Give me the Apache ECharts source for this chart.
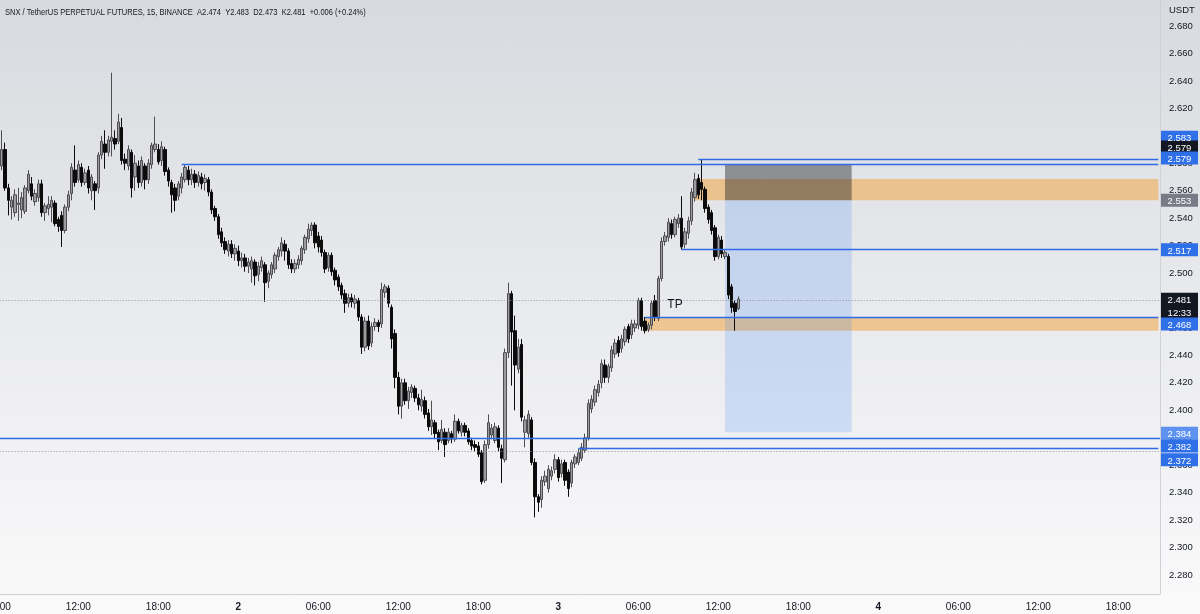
<!DOCTYPE html>
<html>
<head>
<meta charset="utf-8">
<title>SNX / TetherUS PERPETUAL FUTURES, 15</title>
<script src="https://cdn.jsdelivr.net/npm/echarts@6/dist/echarts.min.js"></script>
<style>
  html, body { margin: 0; padding: 0; }
  #chart { width: 1200px; height: 614px; background: linear-gradient(#d8dadf, #fafafb); }
</style>
</head>
<body>
<div id="chart"></div>
<script>
// 15m candles [open, close, low, high], day 1 starts at 06:15
const day1Candles = [
  [2.578,2.590,2.575,2.604],[2.590,2.562,2.560,2.595],[2.562,2.553,2.542,2.565],[2.548,2.553,2.539,2.556],
  [2.544,2.557,2.541,2.561],[2.550,2.551,2.538,2.562],[2.546,2.555,2.540,2.559],[2.545,2.562,2.543,2.564],
  [2.560,2.572,2.558,2.575],[2.565,2.556,2.553,2.570],[2.552,2.558,2.549,2.561],[2.555,2.565,2.552,2.568],
  [2.565,2.544,2.541,2.568],[2.544,2.549,2.538,2.551],[2.547,2.550,2.542,2.556],[2.548,2.553,2.537,2.556],
  [2.551,2.536,2.534,2.553],[2.539,2.534,2.530,2.541],[2.542,2.531,2.519,2.545],[2.531,2.548,2.529,2.550],
  [2.548,2.557,2.545,2.560],[2.558,2.577,2.553,2.580],[2.575,2.566,2.563,2.593],[2.568,2.579,2.566,2.582],
  [2.577,2.566,2.563,2.580],[2.566,2.573,2.564,2.576],[2.575,2.562,2.558,2.578],[2.560,2.570,2.553,2.572],
  [2.565,2.560,2.546,2.567],[2.562,2.586,2.558,2.588],[2.586,2.596,2.583,2.600],[2.594,2.588,2.576,2.604],
  [2.588,2.597,2.585,2.600],[2.596,2.599,2.585,2.646],[2.598,2.594,2.590,2.604],[2.596,2.610,2.594,2.616],
  [2.606,2.582,2.579,2.613],[2.583,2.580,2.575,2.587],[2.578,2.590,2.575,2.593],[2.588,2.562,2.555,2.590],
  [2.570,2.580,2.560,2.586],[2.578,2.566,2.562,2.582],[2.566,2.582,2.563,2.585],[2.578,2.568,2.561,2.580],
  [2.568,2.580,2.565,2.583],[2.579,2.593,2.576,2.595],[2.590,2.594,2.588,2.614],[2.590,2.581,2.579,2.594],
  [2.582,2.592,2.578,2.596],[2.590,2.574,2.571,2.592],[2.575,2.567,2.563,2.577],[2.566,2.557,2.544,2.568],
  [2.562,2.553,2.545,2.565],[2.556,2.565,2.553,2.567],[2.562,2.570,2.558,2.573],[2.568,2.577,2.566,2.579],
  [2.575,2.568,2.564,2.578],[2.568,2.572,2.564,2.576],[2.572,2.566,2.562,2.575],[2.566,2.571,2.563,2.574],
  [2.570,2.565,2.561,2.573],[2.566,2.569,2.560,2.572],[2.568,2.559,2.556,2.570],[2.559,2.546,2.543,2.561],
  [2.547,2.541,2.538,2.549],[2.541,2.528,2.525,2.543],[2.530,2.522,2.519,2.533],[2.523,2.517,2.514,2.526],
  [2.516,2.521,2.512,2.524],[2.521,2.514,2.511,2.524],[2.514,2.518,2.509,2.521]
];
const day2Candles = [
  [2.516,2.509,2.505,2.520],[2.509,2.511,2.504,2.515],[2.511,2.505,2.501,2.514],[2.505,2.508,2.500,2.511],
  [2.503,2.509,2.493,2.512],[2.508,2.498,2.491,2.510],[2.499,2.505,2.494,2.508],[2.504,2.509,2.501,2.512],
  [2.506,2.493,2.479,2.508],[2.494,2.500,2.489,2.502],[2.499,2.506,2.496,2.508],[2.503,2.513,2.500,2.515],
  [2.512,2.517,2.509,2.519],[2.516,2.522,2.512,2.526],[2.521,2.516,2.509,2.524],[2.516,2.506,2.503,2.518],
  [2.507,2.503,2.500,2.510],[2.503,2.507,2.500,2.510],[2.506,2.510,2.503,2.513],[2.509,2.518,2.506,2.520],
  [2.517,2.526,2.514,2.528],[2.525,2.532,2.522,2.536],[2.531,2.535,2.527,2.537],[2.535,2.522,2.518,2.537],
  [2.527,2.519,2.515,2.530],[2.524,2.515,2.512,2.527],[2.515,2.503,2.500,2.517],[2.504,2.513,2.501,2.515],
  [2.513,2.501,2.498,2.515],[2.502,2.495,2.491,2.504],[2.497,2.490,2.487,2.499],[2.491,2.484,2.481,2.493],
  [2.485,2.478,2.471,2.488],[2.478,2.482,2.475,2.485],[2.482,2.479,2.475,2.485],[2.478,2.481,2.474,2.484],
  [2.480,2.468,2.465,2.482],[2.468,2.446,2.441,2.470],[2.446,2.465,2.443,2.468],[2.465,2.447,2.444,2.469],
  [2.449,2.461,2.446,2.464],[2.461,2.464,2.458,2.467],[2.464,2.461,2.457,2.466],[2.463,2.488,2.460,2.493],
  [2.486,2.490,2.482,2.492],[2.489,2.478,2.475,2.491],[2.475,2.452,2.445,2.477],[2.456,2.424,2.416,2.459],
  [2.424,2.403,2.397,2.428],[2.403,2.420,2.394,2.423],[2.420,2.407,2.404,2.423],[2.407,2.414,2.401,2.417],
  [2.413,2.417,2.409,2.419],[2.416,2.409,2.406,2.418],[2.409,2.404,2.400,2.412],[2.403,2.408,2.399,2.415],
  [2.407,2.397,2.394,2.410],[2.398,2.388,2.385,2.401],[2.388,2.393,2.382,2.407],[2.391,2.383,2.379,2.393],
  [2.384,2.377,2.371,2.386],[2.378,2.386,2.376,2.393],[2.384,2.375,2.366,2.387],[2.378,2.384,2.376,2.387],
  [2.383,2.379,2.376,2.385],[2.379,2.392,2.377,2.397],[2.392,2.385,2.383,2.394],[2.384,2.389,2.381,2.391],
  [2.389,2.384,2.381,2.391],[2.385,2.377,2.375,2.387],[2.378,2.374,2.371,2.380],[2.375,2.373,2.370,2.378],
  [2.374,2.368,2.366,2.377],[2.369,2.348,2.346,2.371],[2.349,2.375,2.347,2.378],[2.375,2.391,2.372,2.397],
  [2.382,2.387,2.379,2.390],[2.378,2.388,2.376,2.391],[2.387,2.373,2.370,2.389],[2.372,2.365,2.347,2.375],
  [2.364,2.442,2.362,2.445],[2.442,2.485,2.438,2.493],[2.485,2.457,2.418,2.487],[2.458,2.433,2.400,2.469],
  [2.430,2.446,2.427,2.452],[2.448,2.395,2.392,2.452],[2.384,2.393,2.373,2.396],[2.383,2.397,2.380,2.400],
  [2.393,2.362,2.360,2.395],[2.362,2.337,2.322,2.365],[2.337,2.333,2.326,2.339],[2.335,2.349,2.329,2.352],
  [2.348,2.352,2.345,2.356],[2.343,2.357,2.340,2.360],[2.352,2.356,2.349,2.359],[2.357,2.364,2.354,2.368]
];
const day3Candles = [
  [2.364,2.351,2.348,2.366],[2.354,2.361,2.351,2.364],[2.362,2.349,2.345,2.364],[2.355,2.343,2.337,2.357],
  [2.347,2.362,2.344,2.364],[2.361,2.366,2.358,2.368],[2.362,2.369,2.360,2.372],[2.365,2.373,2.363,2.376],
  [2.371,2.380,2.369,2.383],[2.380,2.405,2.378,2.408],[2.401,2.408,2.398,2.411],[2.406,2.415,2.403,2.418],
  [2.413,2.419,2.410,2.422],[2.420,2.434,2.416,2.437],[2.433,2.424,2.420,2.437],[2.424,2.432,2.420,2.434],
  [2.431,2.444,2.428,2.447],[2.441,2.449,2.438,2.452],[2.451,2.442,2.439,2.454],[2.445,2.452,2.442,2.455],
  [2.450,2.459,2.447,2.461],[2.461,2.452,2.449,2.463],[2.455,2.463,2.452,2.466],[2.460,2.463,2.457,2.466],
  [2.462,2.480,2.459,2.482],[2.480,2.461,2.458,2.482],[2.465,2.458,2.456,2.468],[2.459,2.462,2.457,2.464],
  [2.462,2.478,2.459,2.480],[2.480,2.468,2.465,2.484],[2.467,2.496,2.465,2.498],[2.496,2.523,2.494,2.526],
  [2.523,2.527,2.520,2.530],[2.526,2.537,2.523,2.540],[2.536,2.528,2.525,2.539],[2.528,2.539,2.526,2.541],
  [2.536,2.540,2.533,2.543],[2.540,2.519,2.517,2.556],[2.521,2.530,2.518,2.533],[2.529,2.538,2.525,2.541],
  [2.538,2.559,2.535,2.562],[2.555,2.568,2.552,2.573],[2.569,2.557,2.554,2.572],[2.566,2.561,2.553,2.583],
  [2.561,2.547,2.544,2.563],[2.548,2.539,2.536,2.550],[2.544,2.531,2.528,2.546],[2.533,2.512,2.509,2.535],
  [2.512,2.526,2.510,2.528],[2.524,2.514,2.511,2.527],[2.512,2.515,2.510,2.517],[2.512,2.484,2.481,2.514],
  [2.490,2.475,2.471,2.492],[2.478,2.472,2.458,2.480],[2.474,2.481,2.473,2.483]
];

const priceTicks = [2.28, 2.30, 2.32, 2.34, 2.36, 2.38, 2.40, 2.42, 2.44, 2.46, 2.48,
  2.50, 2.52, 2.54, 2.56, 2.58, 2.60, 2.62, 2.64, 2.66, 2.68];

// drawn levels: [price, first slot] (null = whole width)
const levelLines = [[2.583, 210], [2.579, 55], [2.517, 205], [2.468, 194], [2.382, null], [2.372, 174]];
const dottedLines = [2.481, 2.372];
// orange zones: [top, bottom, first slot]
const zones = [[2.5685, 2.553, 209], [2.468, 2.458, 194]];
// short position tool
const position = { stop: 2.579, entry: 2.553, target: 2.384, from: 218, to: 256 };
const tpNote = { text: 'TP', slot: 203, price: 2.4767 };

// price tags on the axis: [price, text, colour]
const priceTags = [
  [2.583, '2.583', '#2f6fe8'],
  [2.579, '2.579', '#131722'],
  [2.579, '2.579', '#2f6fe8'],
  [2.553, '2.553', '#787b86'],
  [2.517, '2.517', '#2f6fe8'],
  [2.481, '2.481\n12:33', '#131722'],
  [2.468, '2.468', '#2f6fe8'],
  [2.384, '2.384', '#5d92f0'],
  [2.382, '2.382', '#2f6fe8'],
  [2.372, '2.372', '#2f6fe8']
];
// px nudges so stacked tags don't overlap
const tagNudge = [-22, -17.5, -6.5, 0, 0, 0, 7, 1, 11, 11];

const titleText = 'SNX / TetherUS PERPETUAL FUTURES, 15, BINANCE  A2.474  Y2.483  D2.473  K2.481  +0.006 (+0.24%)';

// 15 minute slots from 06:00 on day 1 to 21:00 on day 4
const slotCount = 349;
const pad = n => (n < 10 ? '0' : '') + n;
const categories = [];
for (let k = 0; k < slotCount; k++) {
  const m = 6 * 60 + k * 15;
  const day = 1 + Math.floor(m / 1440);
  categories.push(day + ' ' + pad(Math.floor((m % 1440) / 60)) + ':' + pad(m % 60));
}
const cat = k => categories[k];
const lastSlot = slotCount - 1;

// slot 0 (06:00) is only there so the cut-off label shows
const ohlc = [['-', '-', '-', '-']].concat(day1Candles, day2Candles, day3Candles);

const blue = '#2f6be6';
const orange = 'rgba(242,160,50,0.5)';
const font = '"Liberation Sans", Arial, sans-serif';

const chart = echarts.init(document.getElementById('chart'));

const lineData = levelLines.map(([v, from]) => from === null
  ? { yAxis: v }
  : [{ coord: [cat(from), v] }, { coord: [cat(lastSlot), v] }]
).concat(dottedLines.map(v => ({
  yAxis: v,
  lineStyle: { color: '#8d9099', type: [1, 2], width: 1 }
})));

const areaData = zones.map(([top, bottom, from]) => [
  { coord: [cat(from), top], itemStyle: { color: orange } },
  { coord: [cat(lastSlot), bottom] }
]).concat([
  [{ coord: [cat(position.from), position.stop], itemStyle: { color: 'rgba(40,40,45,0.45)' } },
   { coord: [cat(position.to), position.entry] }],
  [{ coord: [cat(position.from), position.entry], itemStyle: { color: 'rgba(66,133,244,0.2)' } },
   { coord: [cat(position.to), position.target] }]
]);

chart.setOption({
  animation: false,
  textStyle: { fontFamily: font },
  grid: { left: -3.333, right: 40, top: 0, bottom: 20, outerBoundsMode: 'none' },
  xAxis: {
    type: 'category',
    data: categories,
    boundaryGap: true,
    axisLine: { show: true, lineStyle: { color: '#cfd1d6' } },
    axisTick: { show: false },
    splitLine: { show: false },
    axisLabel: {
      interval: idx => idx % 24 === 0,
      margin: 8,
      color: '#131722',
      fontSize: 10,
      formatter: v => {
        const [day, hm] = v.split(' ');
        return hm === '00:00' ? '{day|' + day + '}' : hm;
      },
      rich: { day: { fontWeight: 'bold', fontSize: 10, color: '#131722' } }
    }
  },
  yAxis: {
    type: 'value',
    position: 'right',
    min: 2.26616,
    max: 2.69894,
    axisLine: { show: true, lineStyle: { color: '#cfd1d6' } },
    axisTick: { show: false },
    splitLine: { show: false },
    axisLabel: {
      customValues: priceTicks,
      margin: 9,
      color: '#131722',
      fontSize: 9.5,
      formatter: v => v.toFixed(3)
    }
  },
  series: [{
    type: 'candlestick',
    data: ohlc,
    barWidth: 2.8,
    itemStyle: {
      color: '#9c9c9e',
      color0: '#0c0c0c',
      borderColor: '#4d4d52',
      borderColor0: '#0c0c0c',
      borderWidth: 1
    },
    markArea: { silent: true, data: areaData },
    markLine: {
      silent: true,
      symbol: ['none', 'none'],
      label: { show: false },
      lineStyle: { color: blue, width: 1.3, type: 'solid' },
      data: lineData
    },
    markPoint: {
      silent: true,
      symbolSize: 0,
      label: { show: true, position: 'inside', color: '#131722', fontSize: 12, formatter: tpNote.text },
      data: [{ coord: [cat(tpNote.slot), tpNote.price] }]
    }
  }]
});

// price tags sit on the axis, placed through the y scale
const tagEls = priceTags.map(([v, text, color], i) => {
  const y = chart.convertToPixel({ yAxisIndex: 0 }, v) + tagNudge[i];
  const rows = text.split('\n').length;
  const h = rows * 12.5 + 0.5;
  return {
    type: 'group', x: 1161, y: y - 6.5, z: 100,
    children: [
      { type: 'rect', z: 100, shape: { x: 0, y: 0, width: 37, height: h }, style: { fill: color } },
      { type: 'text', z: 101, x: 18.5, y: 1.5,
        style: { text: text, fill: '#ffffff', font: '9.5px ' + font, align: 'center', lineHeight: 12.5 } }
    ]
  };
});
tagEls.push({
  type: 'text', x: 1169, y: 5, z: 100,
  style: { text: 'USDT', fill: '#131722', font: '9.5px ' + font }
});
// header text, squeezed a little like the source screenshot
tagEls.push({
  type: 'text', x: 5, y: 8, z: 100, scaleX: 0.81,
  style: { text: titleText, fill: '#131722', font: '9.3px ' + font }
});
chart.setOption({ graphic: tagEls });
</script>
</body>
</html>
